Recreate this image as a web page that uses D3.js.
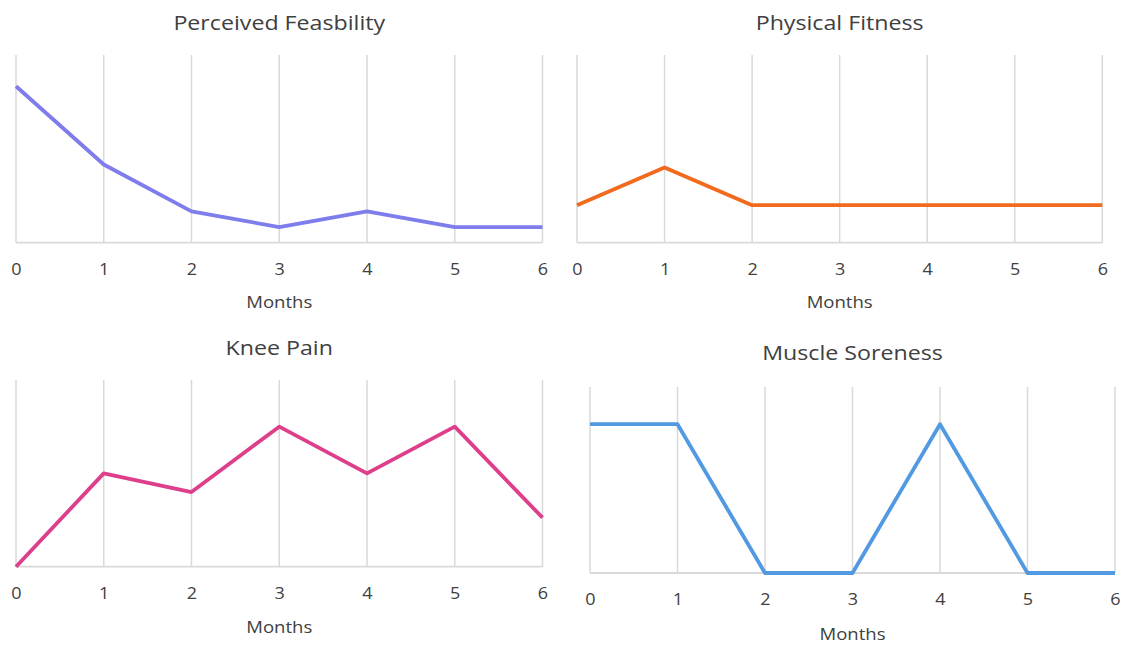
<!DOCTYPE html>
<html>
<head>
<meta charset="utf-8">
<script src="https://cdn.jsdelivr.net/npm/d3@7"></script>
<style>
  html, body { margin: 0; padding: 0; background: #fff; }
  svg { display: block; }
  text { font-family: "Open Sans", "Noto Sans", sans-serif; fill: #404040; }
</style>
</head>
<body>
<svg id="chart" width="1123" height="647"></svg>
<script>
// ---- data ----
const months = [0, 1, 2, 3, 4, 5, 6];
const titles = ["Perceived Feasbility", "Physical Fitness", "Knee Pain", "Muscle Soreness"];
const feasibility = [10, 5, 2, 1, 2, 1, 1];
const fitness = [1, 2, 1, 1, 1, 1, 1];
const kneePain = [0, 2, 1.6, 3, 2, 3, 1.05];
const soreness = [1, 1, 0, 0, 1, 0, 0];
const yMax = [12, 5, 4, 1.25];
const xLabel = "Months";

// ---- layout / style ----
const series = [feasibility, fitness, kneePain, soreness];
const colors = ["#7f7cec", "#f26a1e", "#de3f8b", "#5199e1"];
const panels = [
  { x0: 16,  x1: 542.5,  top: 55,  bottom: 242.7, titleY: 22,  labY: 302 },
  { x0: 577, x1: 1102.3, top: 55,  bottom: 242.7, titleY: 22,  labY: 302 },
  { x0: 16,  x1: 542.5,  top: 380, bottom: 566.7, titleY: 347, labY: 627 },
  { x0: 590, x1: 1115,   top: 387, bottom: 573,   titleY: 352, labY: 634 }
];
const stretch = 1.16; // reference text is horizontally widened

const svg = d3.select("#chart");

function stretchedText(g, cx, cy, size, str, fill) {
  g.append("text")
    .attr("transform", `translate(${cx},${cy}) scale(${stretch},1)`)
    .attr("text-anchor", "middle").attr("dominant-baseline", "central")
    .attr("font-size", size)
    .attr("fill", fill || "#404040")
    .text(str);
}

panels.forEach((p, i) => {
  const g = svg.append("g");
  const x = d3.scaleLinear().domain([d3.min(months), d3.max(months)]).range([p.x0, p.x1]);
  const y = d3.scaleLinear().domain([0, yMax[i]]).range([p.bottom, p.top]);

  // vertical gridlines
  g.append("g").selectAll("line").data(months).join("line")
    .attr("x1", d => x(d)).attr("x2", d => x(d))
    .attr("y1", p.top).attr("y2", p.bottom)
    .attr("stroke", "#d9d9d9").attr("stroke-width", 1.5);

  // baseline
  g.append("line")
    .attr("x1", p.x0).attr("x2", p.x1)
    .attr("y1", y(0)).attr("y2", y(0))
    .attr("stroke", "#d9d9d9").attr("stroke-width", 1.8);

  // x axis labels
  const ax = g.append("g")
    .attr("transform", `translate(0,${p.bottom})`)
    .call(d3.axisBottom(x).tickValues(months).tickFormat(d3.format("d")).tickSize(0).tickPadding(21));
  ax.select(".domain").remove();
  ax.selectAll(".tick text")
    .attr("font-size", 15.5)
    .attr("transform", `scale(${stretch},1)`)
    .attr("x", 0)
    .style("font-family", '"Open Sans", "Noto Sans", sans-serif')
    .attr("fill", "#2b2b2b");

  // line
  const line = d3.line().x((d, j) => x(months[j])).y(d => y(d));
  g.append("path")
    .datum(series[i])
    .attr("d", line)
    .attr("fill", "none")
    .attr("stroke", colors[i])
    .attr("stroke-width", 3.8)
    .attr("stroke-linejoin", "round");

  // title
  stretchedText(g, (p.x0 + p.x1) / 2, p.titleY, 20, titles[i], "#333333");

  // axis title
  stretchedText(g, (p.x0 + p.x1) / 2, p.labY, 16, xLabel, "#404040");
});
</script>
</body>
</html>
